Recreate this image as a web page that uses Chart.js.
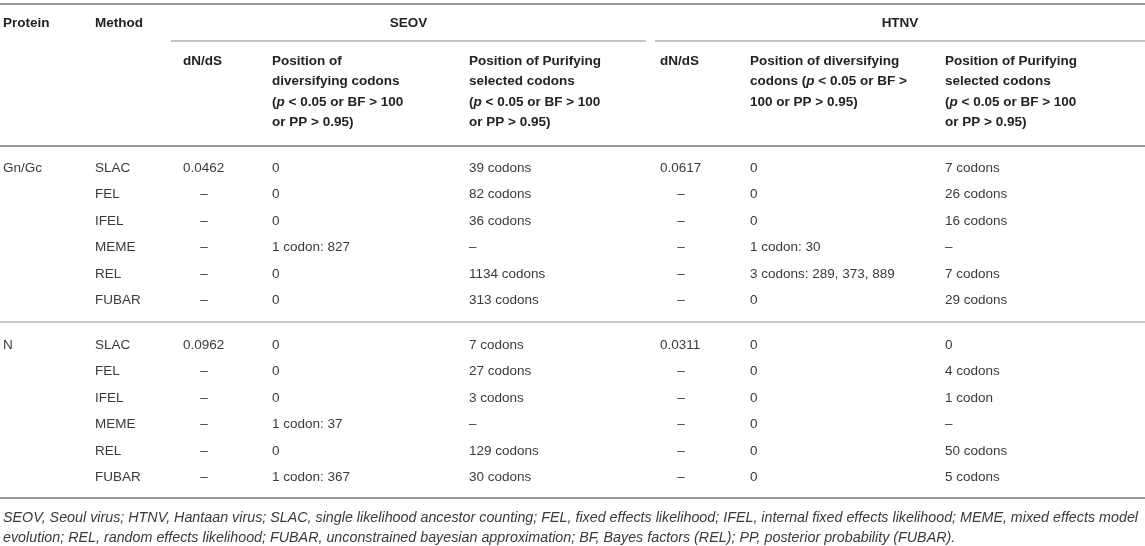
<!DOCTYPE html>
<html>
<head>
<meta charset="utf-8">
<script src="https://cdn.jsdelivr.net/npm/chart.js@4.4.0/dist/chart.umd.min.js"></script>
<style>
  html, body { margin: 0; padding: 0; background: #fff; }
  #caixa { width: 1145px; height: 546px; }
</style>
</head>
<body>
<div id="caixa"><canvas id="tabela"></canvas></div>
<script>
// Dados da tabela
const proteinas = ['Gn/Gc', 'N'];
const metodos = ['SLAC', 'FEL', 'IFEL', 'MEME', 'REL', 'FUBAR'];
const virus = ['SEOV', 'HTNV'];

const gnSeovDnds = ['0.0462', '–', '–', '–', '–', '–'];
const gnSeovDiv = ['0', '0', '0', '1 codon: 827', '0', '0'];
const gnSeovPur = ['39 codons', '82 codons', '36 codons', '–', '1134 codons', '313 codons'];
const gnHtnvDnds = ['0.0617', '–', '–', '–', '–', '–'];
const gnHtnvDiv = ['0', '0', '0', '1 codon: 30', '3 codons: 289, 373, 889', '0'];
const gnHtnvPur = ['7 codons', '26 codons', '16 codons', '–', '7 codons', '29 codons'];

const nSeovDnds = ['0.0962', '–', '–', '–', '–', '–'];
const nSeovDiv = ['0', '0', '0', '1 codon: 37', '0', '1 codon: 367'];
const nSeovPur = ['7 codons', '27 codons', '3 codons', '–', '129 codons', '30 codons'];
const nHtnvDnds = ['0.0311', '–', '–', '–', '–', '–'];
const nHtnvDiv = ['0', '0', '0', '0', '0', '0'];
const nHtnvPur = ['0', '4 codons', '1 codon', '–', '50 codons', '5 codons'];

// cabeçalhos (o *p* sai em itálico)
const cabDnds = ['dN/dS'];
const cabSeovDiv = ['Position of', 'diversifying codons', '(*p* < 0.05 or BF > 100', 'or PP > 0.95)'];
const cabSeovPur = ['Position of Purifying', 'selected codons', '(*p* < 0.05 or BF > 100', 'or PP > 0.95)'];
const cabHtnvDiv = ['Position of diversifying', 'codons (*p* < 0.05 or BF >', '100 or PP > 0.95)'];
const cabHtnvPur = ['Position of Purifying', 'selected codons', '(*p* < 0.05 or BF > 100', 'or PP > 0.95)'];

const notas = [
  'SEOV, Seoul virus; HTNV, Hantaan virus; SLAC, single likelihood ancestor counting; FEL, fixed effects likelihood; IFEL, internal fixed effects likelihood; MEME, mixed effects model',
  'evolution; REL, random effects likelihood; FUBAR, unconstrained bayesian approximation; BF, Bayes factors (REL); PP, posterior probability (FUBAR).'
];

// Layout (unidades da escala = pixels da figura)
const col = { prot: 3, met: 95, sDn: 183, sDiv: 272, sPur: 469, hDn: 660, hDiv: 750, hPur: 945 };
const centroDn = { s: 204, h: 681 };
const faixaSub = { s: [171, 646], h: [655, 1145] };
const linhaY = { topo: 4, virus: 23, sub: 41, cab: 61, passoCab: 20.5, fimCab: 146, grupo1: 168, grupo2: 345, passo: 26.5, meio: 322, fim: 498, nota: 518, passoNota: 20 };

const familia = '"Liberation Sans", Arial, sans-serif';
const corCab = '#222';
const corTexto = '#3a3a3a';
const corNota = '#3a3a3a';
const fonteCab = 'bold 13.5px ' + familia;
const fonteCabIt = 'bold italic 13.5px ' + familia;
const fonteTexto = '13.5px ' + familia;
const fonteNota = 'italic 14.3px ' + familia;

function pontos() {
  const lista = [];
  const add = (x, y, texto, extra) => lista.push(Object.assign({ x: x, y: y, texto: texto }, extra || {}));

  // cabeçalho
  add(col.prot, linhaY.virus, 'Protein', { cab: true });
  add(col.met, linhaY.virus, 'Method', { cab: true });
  add((faixaSub.s[0] + faixaSub.s[1]) / 2, linhaY.virus, virus[0], { cab: true, centro: true });
  add((faixaSub.h[0] + faixaSub.h[1]) / 2, linhaY.virus, virus[1], { cab: true, centro: true });
  const colunasCab = [[col.sDn, cabDnds], [col.sDiv, cabSeovDiv], [col.sPur, cabSeovPur],
                      [col.hDn, cabDnds], [col.hDiv, cabHtnvDiv], [col.hPur, cabHtnvPur]];
  colunasCab.forEach(([x, linhas]) => {
    linhas.forEach((t, k) => add(x, linhaY.cab + k * linhaY.passoCab, t, { cab: true }));
  });

  // corpo
  const grupos = [
    [linhaY.grupo1, [gnSeovDnds, gnSeovDiv, gnSeovPur, gnHtnvDnds, gnHtnvDiv, gnHtnvPur]],
    [linhaY.grupo2, [nSeovDnds, nSeovDiv, nSeovPur, nHtnvDnds, nHtnvDiv, nHtnvPur]]
  ];
  const xs = [col.sDn, col.sDiv, col.sPur, col.hDn, col.hDiv, col.hPur];
  grupos.forEach(([y0, cols], g) => {
    add(col.prot, y0, proteinas[g]);
    metodos.forEach((m, i) => {
      const y = y0 + i * linhaY.passo;
      add(col.met, y, m);
      cols.forEach((arr, c) => {
        const v = arr[i];
        if (v === '–' && c === 0) add(centroDn.s, y, v, { centro: true });
        else if (v === '–' && c === 3) add(centroDn.h, y, v, { centro: true });
        else add(xs[c], y, v);
      });
    });
  });

  // notas de rodapé
  notas.forEach((t, k) => add(col.prot, linhaY.nota + k * linhaY.passoNota, t, { nota: true }));
  return lista;
}

const regras = [
  { y: linhaY.topo, x0: 0, x1: 1145, w: 2, cor: '#9a9a9a' },
  { y: linhaY.sub, x0: faixaSub.s[0], x1: faixaSub.s[1], w: 1.5, cor: '#b0b0b0' },
  { y: linhaY.sub, x0: faixaSub.h[0], x1: faixaSub.h[1], w: 1.5, cor: '#b0b0b0' },
  { y: linhaY.fimCab, x0: 0, x1: 1145, w: 2, cor: '#9a9a9a' },
  { y: linhaY.meio, x0: 0, x1: 1145, w: 1.5, cor: '#b5b5b5' },
  { y: linhaY.fim, x0: 0, x1: 1145, w: 2, cor: '#9a9a9a' }
];

function textoRico(ctx, texto, x, y) {
  const partes = texto.split('*');
  let cx = x;
  partes.forEach((p, i) => {
    ctx.font = (i % 2 === 1) ? fonteCabIt : fonteCab;
    ctx.fillText(p, cx, y);
    cx += ctx.measureText(p).width;
  });
}

const pluginTabela = {
  id: 'tabela',
  beforeDatasetsDraw(chart) {
    const ctx = chart.ctx;
    const sx = chart.scales.x, sy = chart.scales.y;
    ctx.save();
    regras.forEach(r => {
      ctx.strokeStyle = r.cor;
      ctx.lineWidth = r.w;
      ctx.beginPath();
      ctx.moveTo(sx.getPixelForValue(r.x0), sy.getPixelForValue(r.y));
      ctx.lineTo(sx.getPixelForValue(r.x1), sy.getPixelForValue(r.y));
      ctx.stroke();
    });
    ctx.restore();
  },
  afterDatasetsDraw(chart) {
    const ctx = chart.ctx;
    ctx.save();
    ctx.textBaseline = 'middle';
    chart.data.datasets.forEach((ds, i) => {
      const meta = chart.getDatasetMeta(i);
      meta.data.forEach((el, j) => {
        const p = ds.data[j];
        ctx.fillStyle = p.cab ? corCab : (p.nota ? corNota : corTexto);
        ctx.textAlign = p.centro ? 'center' : 'left';
        if (p.nota) {
          ctx.font = fonteNota;
          ctx.fillText(p.texto, el.x, el.y, 1138);
        } else if (p.cab) {
          if (p.centro) { ctx.font = fonteCab; ctx.fillText(p.texto, el.x, el.y); }
          else textoRico(ctx, p.texto, el.x, el.y);
        } else {
          ctx.font = fonteTexto;
          ctx.fillText(p.texto, el.x, el.y);
        }
      });
    });
    ctx.restore();
  }
};

const ctx = document.getElementById('tabela').getContext('2d');
const grafico = new Chart(ctx, {
  type: 'scatter',
  data: {
    datasets: [{
      label: 'celulas',
      data: pontos(),
      pointRadius: 0,
      pointHoverRadius: 0
    }]
  },
  options: {
    responsive: true,
    maintainAspectRatio: false,
    animation: false,
    layout: { padding: 0 },
    plugins: { legend: { display: false }, tooltip: { enabled: false } },
    events: [],
    scales: {
      x: { type: 'linear', min: 0, max: 1145, display: false },
      y: { type: 'linear', min: 0, max: 546, reverse: true, display: false }
    }
  },
  plugins: [pluginTabela]
});
</script>
</body>
</html>
